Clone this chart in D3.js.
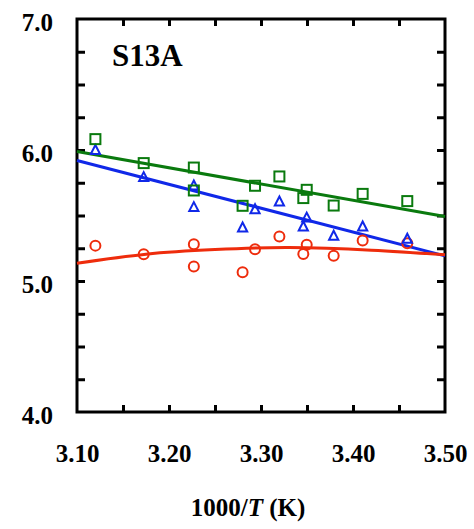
<!DOCTYPE html>
<html>
<head>
  <meta charset="UTF-8">
  <style>
    body { margin: 0; background: #fff; }
    svg text { font-family: "Liberation Serif", "Times New Roman", serif; font-weight: bold; }
  </style>
</head>
<body>
<div id="chart"></div>
<script src="https://d3js.org/d3.v7.min.js"></script>
<script>
// x values (1000/T) shared by all three series
var invT = [3.120, 3.1725, 3.227, 3.227, 3.280, 3.2935, 3.320, 3.3497, 3.346, 3.379, 3.4105, 3.459];

var greenSq   = [6.083, 5.900, 5.866, 5.691, 5.574, 5.727, 5.798, 5.696, 5.633, 5.576, 5.665, 5.610];
var blueTri   = [6.000, 5.793, 5.729, 5.564, 5.408, 5.548, 5.607, 5.484, 5.416, 5.345, 5.416, 5.322];
var redCirc   = [5.270, 5.205, 5.281, 5.110, 5.067, 5.243, 5.339, 5.276, 5.207, 5.192, 5.309, 5.289];

// fitted lines
var greenFit = [[3.10, 5.989], [3.50, 5.492]];
var blueFit  = [[3.10, 5.920], [3.50, 5.192]];
var redFit   = [[3.10, 5.136], [3.175, 5.205], [3.25, 5.240], [3.33, 5.255], [3.42, 5.235], [3.50, 5.200]];

var xMajor = [3.10, 3.20, 3.30, 3.40, 3.50];
var xMinor = [3.15, 3.20, 3.25, 3.30, 3.35, 3.40, 3.45];
var yMajor = [4.0, 5.0, 6.0, 7.0];
var yMinor = [4.25, 4.5, 4.75, 5.0, 5.25, 5.5, 5.75, 6.0, 6.25, 6.5, 6.75];

var W = 474, H = 529;
var pL = 77, pR = 445, pT = 19, pB = 412;

var svg = d3.select("#chart").append("svg")
    .attr("width", W)
    .attr("height", H);

var x = d3.scaleLinear().domain([3.10, 3.50]).range([pL, pR]);
var y = d3.scaleLinear().domain([4.0, 7.0]).range([pB, pT]);

var green = "#0a7a0e", blue = "#1028e8", red = "#ee2c0c";

// inward ticks on all four sides
function tickAxis(axis, tr) {
  var g = svg.append("g").attr("transform", tr).call(axis);
  g.select(".domain").remove();
  g.selectAll(".tick line").attr("stroke", "#000").attr("stroke-width", 3);
  return g;
}
tickAxis(d3.axisBottom(x).tickValues(xMinor).tickSize(-7).tickFormat(""), "translate(0," + pB + ")");
tickAxis(d3.axisTop(x).tickValues(xMinor).tickSize(-7).tickFormat(""), "translate(0," + pT + ")");
tickAxis(d3.axisLeft(y).tickValues(yMinor).tickSize(-8).tickFormat(""), "translate(" + pL + ",0)");
tickAxis(d3.axisRight(y).tickValues(yMinor).tickSize(-8).tickFormat(""), "translate(" + pR + ",0)");

// frame
svg.append("rect")
    .attr("x", pL).attr("y", pT)
    .attr("width", pR - pL).attr("height", pB - pT)
    .attr("fill", "none").attr("stroke", "#000").attr("stroke-width", 3);

// tick labels
var xl = svg.append("g").attr("transform", "translate(0," + pB + ")")
    .call(d3.axisBottom(x).tickValues(xMajor).tickSize(0).tickFormat(d3.format(".2f")));
xl.select(".domain").remove();
xl.selectAll("text").attr("y", 50).attr("dy", null)
    .attr("font-size", 25).attr("fill", "#000");

var yl = svg.append("g").attr("transform", "translate(" + pL + ",0)")
    .call(d3.axisLeft(y).tickValues(yMajor).tickSize(0).tickPadding(24).tickFormat(d3.format(".1f")));
yl.select(".domain").remove();
yl.selectAll("text").attr("dy", "0.47em")
    .attr("font-size", 25).attr("fill", "#000");

// axis title
var xt = svg.append("text")
    .attr("x", 248).attr("y", 516)
    .attr("text-anchor", "middle")
    .attr("font-size", 25);
xt.append("tspan").text("1000/");
xt.append("tspan").attr("font-style", "italic").text("T");
xt.append("tspan").text(" (K)");

// panel label
svg.append("text")
    .attr("x", 112).attr("y", 66)
    .attr("font-size", 31)
    .text("S13A");

// fit lines
var line = d3.line().x(d => x(d[0])).y(d => y(d[1]));
svg.append("path").datum(greenFit).attr("d", line)
    .attr("fill", "none").attr("stroke", green).attr("stroke-width", 3);
svg.append("path").datum(blueFit).attr("d", line)
    .attr("fill", "none").attr("stroke", blue).attr("stroke-width", 3);
svg.append("path").datum(redFit).attr("d", line.curve(d3.curveNatural))
    .attr("fill", "none").attr("stroke", red).attr("stroke-width", 3);

// markers
var pts = svg.append("g");
pts.selectAll(".circ").data(redCirc).enter().append("circle")
    .attr("cx", (d, i) => x(invT[i])).attr("cy", d => y(d))
    .attr("r", 5)
    .attr("fill", "none").attr("stroke", red).attr("stroke-width", 2);

pts.selectAll(".tri").data(blueTri).enter().append("path")
    .attr("transform", (d, i) => "translate(" + x(invT[i]) + "," + y(d) + ")")
    .attr("d", "M0,-5L4.6,4L-4.6,4Z")
    .attr("fill", "none").attr("stroke", blue).attr("stroke-width", 2);

pts.selectAll(".sq").data(greenSq).enter().append("rect")
    .attr("x", (d, i) => x(invT[i]) - 5).attr("y", d => y(d) - 5)
    .attr("width", 10).attr("height", 10)
    .attr("fill", "none").attr("stroke", green).attr("stroke-width", 2);
</script>
</body>
</html>
